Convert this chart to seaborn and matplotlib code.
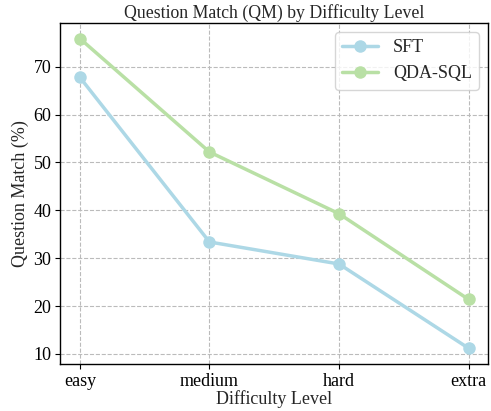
import matplotlib
matplotlib.use("Agg")
import matplotlib.pyplot as plt
import seaborn as sns
import pandas as pd

levels = ["easy", "medium", "hard", "extra"]
sft = [67.8, 33.4, 28.8, 11.2]
qda = [75.9, 52.2, 39.3, 21.4]
series_names = ["SFT", "QDA-SQL"]
colors = ["#add8e6", "#b9e0a5"]

sns.set_theme(style="whitegrid")
plt.rcParams["font.family"] = ["Liberation Serif", "DejaVu Serif"]

df = pd.DataFrame({
    "level": levels * 2,
    "value": sft + qda,
    "model": [series_names[0]] * 4 + [series_names[1]] * 4,
})

fig, ax = plt.subplots(figsize=(4.91, 4.11), dpi=100)
sns.lineplot(data=df, x="level", y="value", hue="model", palette=colors,
             marker="o", markersize=9, markeredgewidth=0, linewidth=2.5, ax=ax, sort=False)

ax.set_facecolor("white")
ax.grid(True, linestyle="--", color="#bbbbbb", linewidth=0.8)
for s in ax.spines.values():
    s.set_color("black")
    s.set_linewidth(1.0)
ax.tick_params(axis="both", labelsize=13, colors="black", length=3.5, width=0.8,
               left=True, bottom=True, pad=3)
ax.set_title("Question Match (QM) by Difficulty Level", fontsize=12.8, pad=4)
ax.set_xlabel("Difficulty Level", fontsize=13, labelpad=0)
ax.set_ylabel("Question Match (%)", fontsize=13, labelpad=3)
ax.set_yticks([10, 20, 30, 40, 50, 60, 70])
leg = ax.legend(loc="upper right", fontsize=13, title=None, frameon=True)
leg.get_frame().set_edgecolor("#cccccc")

fig.subplots_adjust(left=0.123, right=0.994, top=0.944, bottom=0.115)
fig.savefig("out.png", dpi=100)
